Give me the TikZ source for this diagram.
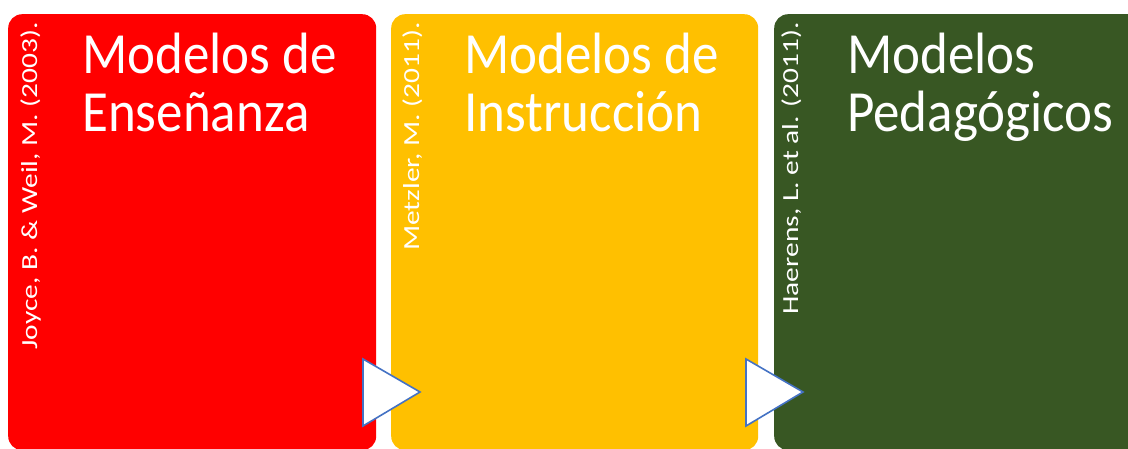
\documentclass[tikz,border=0pt]{standalone}
\usepackage{fontspec}
\setmainfont{Carlito}
\usetikzlibrary{positioning}
\definecolor{modred}{HTML}{FF0000}
\definecolor{modyellow}{HTML}{FFC000}
\definecolor{modgreen}{HTML}{385723}
\definecolor{arrowblue}{HTML}{4472C4}
\tikzset{
  modbox/.style={rounded corners=14pt, inner sep=0pt, anchor=north west,
    minimum width=368pt, minimum height=436pt},
  modtitle/.style={text=white, anchor=base west, align=left, yscale=1.1,
    font=\fontsize{53}{53.6}\selectfont},
  modref/.style={text=white, rotate=90, xscale=1.28, anchor=base east,
    font=\fontsize{23}{25}\selectfont},
  modarrow/.style={draw=arrowblue, fill=white, line width=1.6pt}
}
\begin{document}
\begin{tikzpicture}[x=1pt,y=-1pt]
\tikzstyle{every node}+=[inner sep=0pt]
\useasboundingbox (0,0) rectangle (1128,449);
\clip (0,0) rectangle (1128,449);
% boxes
\node [modbox, fill=modred] (ense) at (8,14) {};
\node [modbox, fill=modyellow, minimum width=367pt] (instr) at (391,14) {};
\node [modbox, fill=modgreen, minimum width=380pt] (peda) at (774,14) {};
% titles
\node [modtitle] (enseT) at (82,132) {Modelos de\\Enseñanza};
\node [modtitle] (instrT) at (464,132) {Modelos de\\Instrucción};
\node [modtitle] (pedaT) at (847,132) {Modelos\\Pedagógicos};
% references
\node [modref] (enseR) at (37,22) {Joyce, B. \& Weil, M. (2003).};
\node [modref] (instrR) at (419,22) {Metzler, M. (2011).};
\node [modref] (pedaR) at (798,22) {Haerens, L. et al. (2011).};
% arrows
\draw [modarrow] (363,359) -- (420,392) -- (363,426) -- cycle;
\draw [modarrow] (746,359) -- (803,392) -- (746,426) -- cycle;
\end{tikzpicture}
\end{document}
